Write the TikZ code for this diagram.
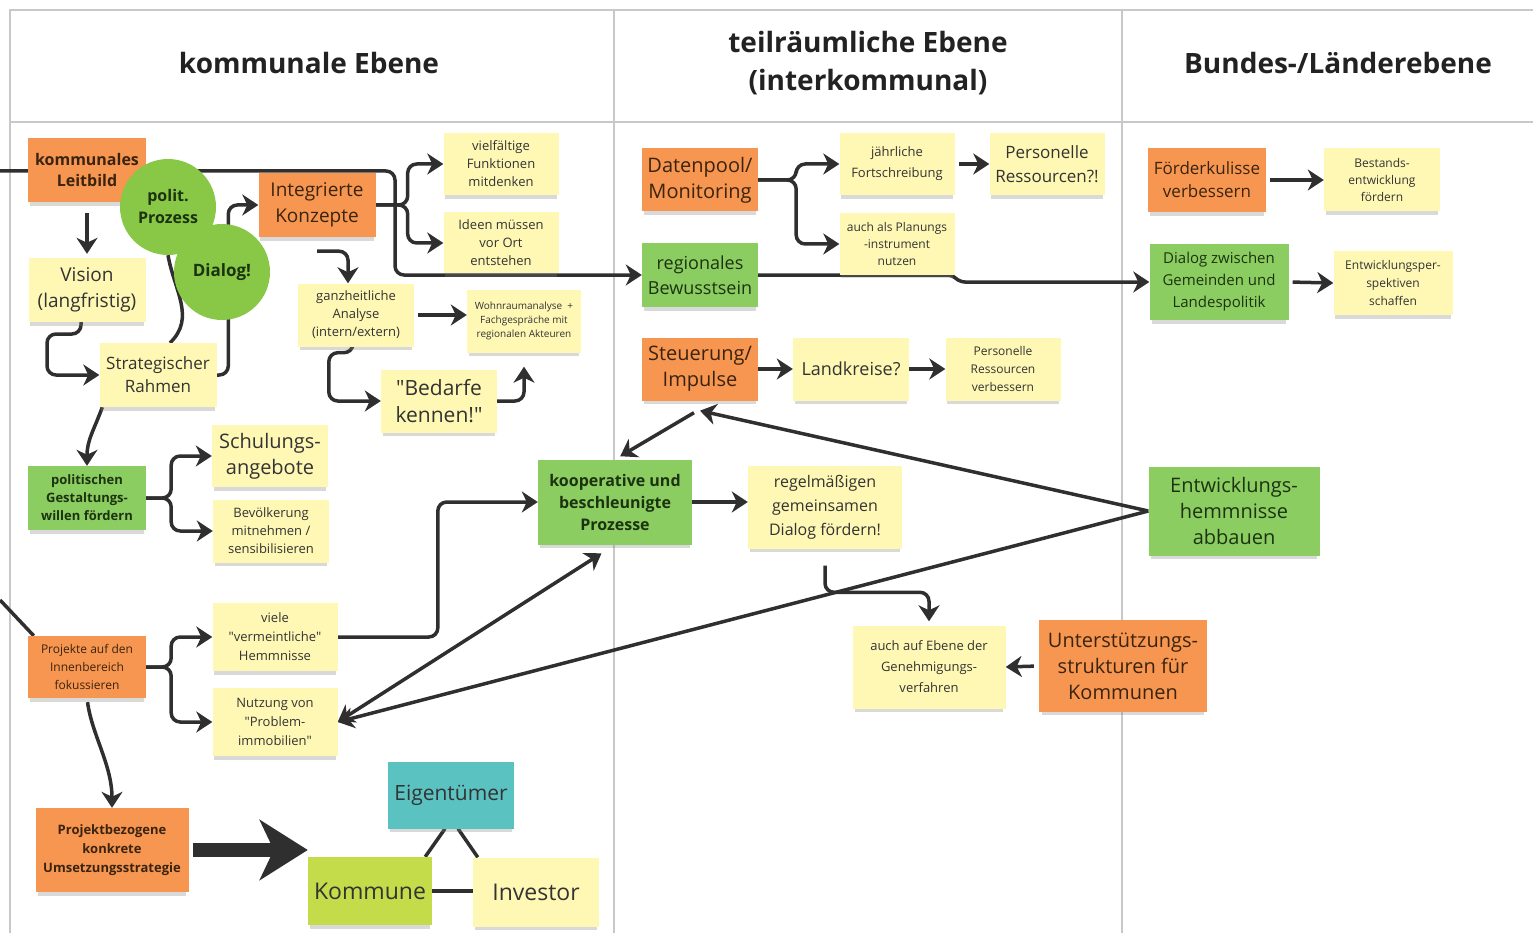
\documentclass[tikz,border=0pt]{standalone}
\usepackage{fontspec}
\setmainfont{Open Sans}
\newfontfamily\qfont{Open Sans}
\newcommand\dq{{\qfont\symbol{34}}}
\usetikzlibrary{arrows.meta,shadows,backgrounds,calc}

\definecolor{noteorange}{RGB}{247,150,80}
\definecolor{noteyellow}{RGB}{255,248,181}
\definecolor{notegreen}{RGB}{140,205,98}
\definecolor{bubblegreen}{RGB}{136,200,70}
\definecolor{noteteal}{RGB}{90,195,194}
\definecolor{notelime}{RGB}{196,219,74}
\definecolor{txtorange}{RGB}{58,36,16}
\definecolor{txtgreen}{RGB}{28,51,16}
\definecolor{txtyellow}{RGB}{51,51,51}
\definecolor{txthead}{RGB}{34,34,34}
\definecolor{linegray}{RGB}{47,47,47}
\definecolor{framegray}{RGB}{200,200,200}

\tikzset{
  sticky/.style={rectangle, inner sep=3pt, align=center,
    drop shadow={shadow xshift=0pt, shadow yshift=-5pt, shadow scale=0.97, opacity=0.3}},
  ora/.style={sticky, fill=noteorange, text=txtorange},
  yel/.style={sticky, fill=noteyellow, text=txtyellow},
  grn/.style={sticky, fill=notegreen, text=txtgreen},
  bubble/.style={circle, fill=bubblegreen, text=txtgreen, minimum size=96pt, inner sep=0pt, align=center},
  sz/.style 2 args={minimum width=#1pt, minimum height=#2pt},
  fs/.style 2 args={font=\fontsize{#1}{#2}\selectfont},
  fb/.style 2 args={font=\fontsize{#1}{#2}\selectfont\bfseries},
  hdr/.style={align=center, text=txthead, font=\fontsize{28}{38}\selectfont\bfseries},
  gridline/.style={draw=framegray, line width=1.5pt},
  conn/.style={draw=linegray, line width=3.5pt, rounded corners=9pt},
  arr/.style={conn, -{Stealth[length=16pt, width=21pt, inset=5pt]}},
  arrboth/.style={conn, {Stealth[length=16pt, width=21pt, inset=5pt]}-{Stealth[length=16pt, width=21pt, inset=5pt]}},
  bigarr/.style={draw=linegray, line width=14pt, -{Stealth[length=48pt, width=60pt, inset=14pt]}},
}

\begin{document}
\begin{tikzpicture}[x=1pt, y=-1pt]
  \useasboundingbox (0,0) rectangle (1533,933);

  % column headers
  \node[hdr] (hkom) at (309,63) {kommunale Ebene};
  \node[hdr] (hteil) at (868,63) {teilräumliche Ebene\\(interkommunal)};
  \node[hdr] (hbund) at (1338,63) {Bundes-/Länderebene};

  % kommunale Ebene
  \node[ora, sz={118}{64}, fb={16}{21}] (leit) at (87,170) {kommunales\\Leitbild};
  \node[yel, sz={117}{64}, fs={19}{26}] (vis) at (87,290) {Vision\\(langfristig)};
  \node[yel, sz={117}{64}, fs={17}{23}] (strat) at (158,375) {Strategischer\\Rahmen};
  \node[ora, sz={117}{64}, fs={19}{26}] (integ) at (317,205) {Integrierte\\Konzepte};
  \node[yel, sz={115}{62}, fs={13}{18}] (vielf) at (501,164) {vielfältige\\Funktionen\\mitdenken};
  \node[yel, sz={115}{61}, fs={13}{18}] (ideen) at (501,243) {Ideen müssen\\vor Ort\\entstehen};
  \node[yel, sz={116}{63}, fs={13}{18}] (ganz) at (356,315) {ganzheitliche\\Analyse\\(intern/extern)};
  \node[yel, sz={114}{63}, fs={10}{14}] (wohn) at (524,321) {Wohnraumanalyse\ \ +\\Fachgespräche mit\\regionalen Akteuren};
  \node[yel, sz={116}{63}, fs={21}{27}] (bed) at (439,401) {\dq Bedarfe\\kennen!\dq};
  \node[bubble, fb={16}{22}] (polit) at (168,207) {polit.\\Prozess};
  \node[bubble, fb={17}{22}] (dial) at (222,272) {Dialog!};
  \node[grn, sz={118}{64}, fb={13}{18}] (polg) at (87,498) {politischen\\Gestaltungs-\\willen fördern};
  \node[yel, sz={116}{62}, fs={20}{26}] (schul) at (270,456) {Schulungs-\\angebote};
  \node[yel, sz={116}{63}, fs={13}{18}] (bevo) at (271,531) {Bevölkerung\\mitnehmen /\\sensibilisieren};
  \node[yel, sz={125}{68}, fs={13}{19}] (viele) at (275,637) {viele\\\dq vermeintliche\dq\\Hemmnisse};
  \node[ora, sz={118}{62}, fs={12}{18}] (proj) at (87,667) {Projekte auf den\\Innenbereich\\fokussieren};
  \node[yel, sz={125}{68}, fs={13}{19}] (nutz) at (275,722) {Nutzung von\\\dq Problem-\\immobilien\dq};
  \node[ora, sz={153}{84}, fb={13}{19}] (pbz) at (112,850) {Projektbezogene\\konkrete\\Umsetzungsstrategie};
  \node[sticky, fill=noteteal, text=txtyellow, sz={126}{67}, fs={21}{28}] (eig) at (451,795) {Eigentümer};
  \node[sticky, fill=notelime, text=txtyellow, sz={124}{68}, fs={23}{30}] (komm) at (370,891) {Kommune};
  \node[yel, sz={126}{69}, fs={23}{30}] (inv) at (536,892) {Investor};
  \node[grn, sz={154}{85}, fb={16}{22}] (koop) at (615,502) {kooperative und\\beschleunigte\\Prozesse};

  % teilraeumliche Ebene
  \node[ora, sz={116}{63}, fs={20}{26}] (daten) at (700,180) {Datenpool/\\Monitoring};
  \node[yel, sz={115}{62}, fs={13}{21}] (jahr) at (897,164) {jährliche\\Fortschreibung};
  \node[yel, sz={115}{62}, fs={17}{24}] (pers1) at (1047,164) {Personelle\\Ressourcen?!};
  \node[yel, sz={115}{61}, fs={12}{17}] (plan) at (897,244) {auch als Planungs\\-instrument\\nutzen};
  \node[grn, sz={116}{64}, fs={18}{25}] (regio) at (700,275) {regionales\\Bewusstsein};
  \node[ora, sz={116}{63}, fs={20}{26}] (steu) at (700,369) {Steuerung/\\Impulse};
  \node[yel, sz={116}{63}, fs={18}{24}] (land) at (851,369) {Landkreise?};
  \node[yel, sz={115}{63}, fs={12}{18}] (pers2) at (1003,369) {Personelle\\Ressourcen\\verbessern};
  \node[yel, sz={154}{83}, fs={16}{24}] (regel) at (825,507) {regelmäßigen\\gemeinsamen\\Dialog fördern!};
  \node[yel, sz={153}{83}, fs={13}{21}] (ebene) at (929,667) {auch auf Ebene der\\Genehmigungs-\\verfahren};
  \node[ora, sz={168}{92}, fs={20}{26}] (unter) at (1123,666) {Unterstützungs-\\strukturen für\\Kommunen};

  % Bundes-/Laenderebene
  \node[ora, sz={118}{64}, fs={17}{23}] (foerd) at (1207,180) {Förderkulisse\\verbessern};
  \node[yel, sz={116}{63}, fs={12}{17}] (best) at (1382,180) {Bestands-\\entwicklung\\fördern};
  \node[grn, sz={139}{76}, fs={15}{22}] (dlg) at (1219,282) {Dialog zwischen\\Gemeinden und\\Landespolitik};
  \node[yel, sz={119}{64}, fs={12}{18}] (persp) at (1393,283) {Entwicklungsper-\\spektiven\\schaffen};
  \node[grn, sz={171}{89}, fs={20}{26}] (hemm) at (1234,511) {Entwicklungs-\\hemmnisse\\abbauen};

  \begin{pgfonlayer}{background}
    % table lines
    \draw[gridline] (10,933) -- (10,10) -- (1533,10);
    \draw[gridline] (10,122) -- (1533,122);
    \draw[gridline] (614,10) -- (614,933);
    \draw[gridline] (1122,10) -- (1122,933);

    % lines coming in from the left edge
    \coordinate (inA) at (0,171);
    \coordinate (inB) at (0,600);
    \draw[arr] (inA) -- (395,171) |- (regio.west);
    \draw[conn] (inB) -- ([xshift=6pt]proj.north west);

    % kommunale Ebene
    \draw[arr, shorten <=11pt, shorten >=4pt] (leit) -- (vis);
    \draw[arr] ([xshift=-6pt]vis.south) |- (47,334) |- (strat.west);
    \draw[arr] (strat.east) -| ($(integ.west)+(-30,0)$) -- (integ.west);
    \draw[conn] (polit.south) .. controls (174,290) and (196,318) .. ([xshift=12pt]strat.north);
    \draw[arr] ([xshift=3pt]strat.south west) .. controls (94,430) and (87,440) .. (polg.north);
    \draw[arr] (integ.east) -- ++(32,0) |- (vielf.west);
    \draw[arr] (integ.east) -- ++(32,0) |- (ideen.west);
    \draw[arr] ([yshift=-14pt]integ.south) -| ([xshift=-8pt]ganz.north);
    \draw[arr, shorten <=4pt] (ganz.east) -- (ganz.east -| wohn.west);
    \draw[arr] ([xshift=-3pt]ganz.south) -- ++(0,6) -| ($(bed.west)+(-52,0)$) -- (bed.west);
    \draw[arr, shorten >=14pt] (bed.east) -| (wohn.south);
    \draw[arr] (polg.east) -- ++(25,0) |- (schul.west);
    \draw[arr] (polg.east) -- ++(25,0) |- (bevo.west);
    \draw[arr] (proj.east) -- ++(25,0) |- (viele.west);
    \draw[arr] (proj.east) -- ++(25,0) |- (nutz.west);
    \draw[arr] (viele.east) -| ($(koop.west)+(-100,0)$) -- (koop.west);
    \draw[arrboth, shorten >=16pt] (nutz.east) -- (koop.south);
    \draw[arr, shorten <=4pt] (proj.south) .. controls (92,735) and (112,765) .. (pbz.north);
    \draw[bigarr, shorten <=4pt] (pbz.east) -- (pbz.east -| komm.west);
    \draw[conn] ([xshift=-6pt]eig.south) -- ([xshift=-7pt]komm.north east);
    \draw[conn] ([xshift=7pt]eig.south) -- ([xshift=5pt]inv.north west);
    \draw[conn] (komm.east) -- (komm.east -| inv.west);

    % teilraeumliche Ebene
    \draw[arr] (daten.east) -- ++(38,0) |- (jahr.west);
    \draw[arr] (daten.east) -- ++(38,0) |- (plan.west);
    \draw[arr, shorten <=4pt] (jahr.east) -- (pers1.west);
    \draw[arr, rounded corners=5pt] (regio.east) -- (952,275) -- (960,282) -- (dlg.west);
    \draw[arr] (steu.east) -- (land.west);
    \draw[arr] (land.east) -- (pers2.west);
    \draw[arr, shorten >=6pt] ([xshift=-6pt,yshift=-12pt]steu.south) -- (koop.north);
    \draw[arr] (koop.east) -- (koop.east -| regel.west);
    \draw[arr, shorten >=4pt] ([yshift=-17pt]regel.south) |- ($(ebene.north)+(0,-33)$) -- (ebene.north);
    \draw[arr, shorten <=5pt] (unter.west) -- (ebene.east);

    % Bundes-/Laenderebene
    \draw[arr, shorten <=4pt] (foerd.east) -- (best.west);
    \draw[arr, shorten <=4pt] (dlg.east) -- (persp.west);
    \draw[arr] (hemm.west) -- ([yshift=-10pt]steu.south);
    \draw[arr] (hemm.west) -- (nutz.east);
  \end{pgfonlayer}
\end{tikzpicture}
\end{document}
